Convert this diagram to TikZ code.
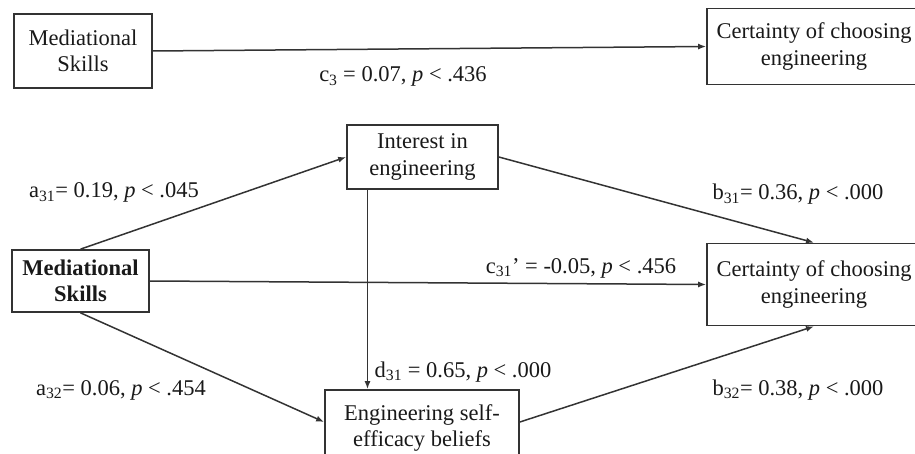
\documentclass[tikz,border=0pt]{standalone}
\usepackage{fontspec}
\setmainfont{Liberation Serif}
\usetikzlibrary{arrows.meta}

\begin{document}
\begin{tikzpicture}[x=1pt, y=-1pt,
    font=\fontsize{22.5}{26.5}\selectfont, text=black!90,
    box/.style={draw=black!80, line width=1.7pt, align=center, inner sep=0pt},
    path/.style={draw=black!80, line width=1.5pt, -{Latex[length=8pt,width=6pt]}},
    coef/.style={anchor=base, inner sep=0pt}]
    \useasboundingbox (0,0) rectangle (915,454);
    \clip (0,0) rectangle (915,454);

    % Total effect
    \node[box, minimum width=138pt, minimum height=74pt] (ms1) at (83,51) {Mediational\\Skills};
    \node[box, minimum width=214pt, minimum height=76pt] (cert1) at (814,46.5) {Certainty of choosing\\engineering};
    \draw[path] (ms1.east) -- (cert1.west);
    \node[coef] (c3) at (403,82) {c\textsubscript{3} = 0.07, \textit{p} < .436};

    % Mediation model
    \node[box, minimum width=151pt, minimum height=64pt] (int) at (422.5,157) {Interest in\\engineering};
    \node[box, minimum width=137pt, minimum height=62pt] (ms2) at (80.5,281) {\textbf{Mediational}\\\textbf{Skills}};
    \node[box, minimum width=214pt, minimum height=82pt] (cert2) at (814,284.5) {Certainty of choosing\\engineering};
    \node[box, minimum width=194pt, minimum height=76pt] (eng) at (422,428) {Engineering self-\\efficacy beliefs};

    % Paths
    \draw[path] (ms2.north) -- (int.west);
    \draw[path] (ms2.south) -- ([yshift=6pt]eng.west);
    \draw[path] (ms2.east) -- (cert2.west);
    \draw[path] ([xshift=-55pt]int.south) -- ([xshift=-55pt]int.south |- eng.north);
    \draw[path] (int.east) -- (cert2.north);
    \draw[path] ([yshift=6pt]eng.east) -- (cert2.south);

    % Coefficients
    \node[coef] (a31) at (114,198) {a\textsubscript{31}= 0.19, \textit{p} < .045};
    \node[coef] (a32) at (121,395) {a\textsubscript{32}= 0.06, \textit{p} < .454};
    \node[coef] (d31) at (463,377) {d\textsubscript{31} = 0.65, \textit{p} < .000};
    \node[coef] (c31) at (581,273) {c\textsubscript{31}’ = -0.05, \textit{p} < .456};
    \node[coef] (b31) at (798,200) {b\textsubscript{31}= 0.36, \textit{p} < .000};
    \node[coef] (b32) at (798,395) {b\textsubscript{32}= 0.38, \textit{p} < .000};
\end{tikzpicture}
\end{document}
